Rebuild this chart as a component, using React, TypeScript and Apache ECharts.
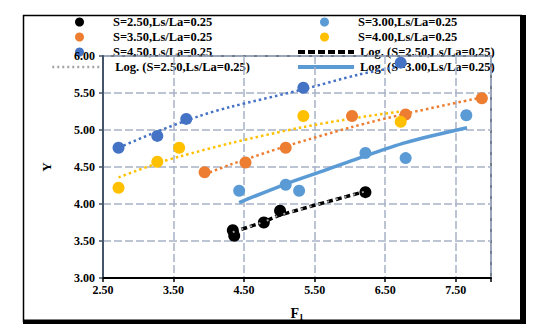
import React, { useEffect, useRef } from "react";
import * as echarts from "echarts";

// Scatter data: [F1, Y]
const s250 = [[4.34, 3.645], [4.36, 3.57], [4.78, 3.75], [5.01, 3.91], [6.22, 4.16]];
const s300 = [[4.43, 4.18], [5.09, 4.26], [5.28, 4.18], [6.22, 4.69], [6.79, 4.62], [7.65, 5.2]];
const s350 = [[3.94, 4.43], [4.52, 4.56], [5.09, 4.76], [6.03, 5.19], [6.79, 5.21], [7.87, 5.43]];
const s400 = [[2.72, 4.22], [3.27, 4.57], [3.58, 4.76], [5.34, 5.19], [6.72, 5.11]];
const s450 = [[2.72, 4.76], [3.27, 4.92], [3.68, 5.15], [5.34, 5.57], [6.72, 5.91]];

// Logarithmic trend lines
const t250 = [[4.34, 3.62], [4.78, 3.76], [5.01, 3.85], [6.22, 4.17]];
const t300 = [[4.43, 4.02], [5.09, 4.27], [5.66, 4.46], [6.13, 4.62], [6.79, 4.83], [7.66, 5.03]];
const t350 = [[3.94, 4.4], [4.3, 4.53], [5.09, 4.78], [6.03, 5.04], [6.79, 5.22], [7.87, 5.44]];
const t400 = [[2.72, 4.36], [3.27, 4.55], [3.58, 4.64], [4.3, 4.82], [5.34, 5.04], [6.13, 5.17], [6.72, 5.25]];
const t450 = [[2.72, 4.76], [3.27, 4.98], [3.87, 5.19], [4.3, 5.31], [5.34, 5.55], [6.13, 5.75], [6.72, 5.86]];

const names = {
  s250: "S=2.50,Ls/La=0.25",
  s300: "S=3.00,Ls/La=0.25",
  s350: "S=3.50,Ls/La=0.25",
  s400: "S=4.00,Ls/La=0.25",
  s450: "S=4.50,Ls/La=0.25",
  t250: "Log. (S=2.50,Ls/La=0.25)",
  t250g: "Log. (S=2.50,Ls/La=0.25) [gray]",
  t300: "Log. (S=3.00,Ls/La=0.25)",
  t350: "Log. (S=3.50,Ls/La=0.25)",
  t400: "Log. (S=4.00,Ls/La=0.25)",
  t450: "Log. (S=4.50,Ls/La=0.25)",
};

const C = {
  black: "#000000",
  lblue: "#5B9BD5",
  orange: "#ED7D31",
  yellow: "#FFC000",
  dblue: "#4472C4",
  gray: "#A5A5A5",
};

const FONT = "'Liberation Serif', 'Times New Roman', serif";

export default function App() {
  const ref = useRef<HTMLDivElement>(null);
  useEffect(() => {
    if (!ref.current) return;
    const chart = echarts.init(ref.current, null, { renderer: "svg" });

    const legendText = {
      fontFamily: FONT,
      fontWeight: "bold",
      fontSize: 12.5,
      color: "#000",
      lineHeight: 14,
    };
    const mkDotLegend = (name: string, iconLeft: number, cy: number) => ({
      data: [name],
      // circle icon is centred in the item box; layout uses its visible bounds
      left: iconLeft + 24,
      top: cy - 7,
      orient: "horizontal",
      itemWidth: 57,
      itemHeight: 9,
      itemGap: 0,
      padding: 0,
      z: 1,
      selectedMode: false,
      icon: "circle",
      textStyle: legendText,
    });
    const mkLineLegend = (name: string, left: number, cy: number, w: number, lineStyle: any, textPad: number) => ({
      data: [name],
      left,
      top: cy - 7,
      orient: "horizontal",
      itemWidth: w,
      itemHeight: 8,
      itemGap: 0,
      padding: 0,
      z: 1,
      selectedMode: false,
      itemStyle: { opacity: 0 },
      lineStyle,
      textStyle: { ...legendText, padding: [0, 0, 0, textPad] },
      formatter: (n: string) => n.replace(" [gray]", ""),
    });

    const scatter = (name: string, data: number[][], color: string) => ({
      type: "scatter",
      name,
      data,
      symbol: "circle",
      symbolSize: 12,
      itemStyle: { color, opacity: 1 },
      z: 4,
    });
    const trend = (name: string, data: number[][], color: string, width: number, type: any, z = 3) => ({
      type: "line",
      name,
      data,
      smooth: 0.3,
      symbol: "none",
      showSymbol: false,
      lineStyle: { color, width, type, cap: "butt" },
      itemStyle: { color },
      z,
    });

    const axisLabel = {
      fontFamily: FONT,
      fontWeight: "bold",
      fontSize: 12,
      color: "#000",
    };
    const splitLine = {
      show: true,
      lineStyle: { color: "#A8B3C7", width: 1.5, type: [8, 3] },
    };

    chart.setOption({
      animation: false,
      backgroundColor: "#fff",
      grid: {
        left: 103,
        right: 52,
        top: 56,
        bottom: 55,
        show: true,
        borderColor: "#44546A",
        borderWidth: 1.5,
        backgroundColor: "transparent",
        z: 2,
      },
      xAxis: {
        type: "value",
        min: 2.5,
        max: 8,
        interval: 1,
        z: 2,
        axisLine: { show: true, onZero: false, lineStyle: { color: "#000", width: 2 } },
        axisTick: { show: true, length: 4, lineStyle: { color: "#000", width: 1.5 } },
        axisLabel: {
          ...axisLabel,
          margin: 6,
          formatter: (v: number) => (v > 7.99 ? "" : v.toFixed(2)),
        },
        splitLine,
        name: "{f|F}{s|1}",
        nameLocation: "middle",
        nameGap: 27,
        nameTextStyle: {
          rich: {
            f: { fontFamily: FONT, fontWeight: "bold", fontSize: 14, color: "#000" },
            s: { fontFamily: FONT, fontWeight: "bold", fontSize: 9, color: "#000", padding: [7, 0, 0, 0] },
          },
        },
      },
      yAxis: {
        type: "value",
        min: 3,
        max: 6,
        interval: 0.5,
        z: 2,
        axisLine: { show: true, onZero: false, lineStyle: { color: "#44546A", width: 2 } },
        axisTick: { show: true, length: 4, lineStyle: { color: "#44546A", width: 1.5 } },
        axisLabel: { ...axisLabel, margin: 8, formatter: (v: number) => v.toFixed(2) },
        splitLine,
        name: "Y",
        nameLocation: "middle",
        nameGap: 50,
        nameRotate: 90,
        nameTextStyle: { fontFamily: FONT, fontWeight: "bold", fontSize: 13, color: "#000" },
      },
      legend: [
        mkDotLegend(names.s250, 51, 22),
        mkDotLegend(names.s350, 51, 37),
        mkDotLegend(names.s450, 51, 52),
        mkLineLegend(names.t250g, 51, 67, 48, { type: [2, 3], width: 2.5, color: C.gray }, 10),
        mkDotLegend(names.s300, 296, 22),
        mkDotLegend(names.s400, 296, 37),
        mkLineLegend(names.t250, 296, 52, 56, { type: [7, 3], width: 4, color: C.black }, 1),
        mkLineLegend(names.t300, 296, 67, 56, { type: "solid", width: 4, color: C.lblue }, 1),
      ],
      graphic: [
        {
          type: "rect",
          shape: { x: 23.5, y: 15.5, width: 498, height: 306 },
          style: { fill: "none", stroke: "#000", lineWidth: 1.5 },
          z: 0,
        },
        { type: "rect", shape: { x: 520, y: 15, width: 6, height: 309 }, style: { fill: "#000" }, z: 0 },
        { type: "rect", shape: { x: 23, y: 319.5, width: 503, height: 4.5 }, style: { fill: "#000" }, z: 0 },
      ],
      series: [
        scatter(names.s250, s250, C.black),
        scatter(names.s300, s300, C.lblue),
        scatter(names.s350, s350, C.orange),
        scatter(names.s400, s400, C.yellow),
        scatter(names.s450, s450, C.dblue),
        trend(names.t450, t450, C.dblue, 2.5, [2.5, 3]),
        trend(names.t400, t400, C.yellow, 2.5, [2.5, 3]),
        trend(names.t350, t350, C.orange, 2.5, [2.5, 3]),
        trend(names.t300, t300, C.lblue, 3.5, "solid"),
        trend(names.t250, t250, C.black, 3.5, [6, 3], 5),
        trend(names.t250g, t250, C.gray, 2, [2, 7], 6),
      ],
    });
    return () => chart.dispose();
  }, []);
  return (
    <div
      ref={ref}
      style={{ position: "fixed", left: 0, top: 0, width: 543, height: 333, background: "#fff" }}
    />
  );
}
